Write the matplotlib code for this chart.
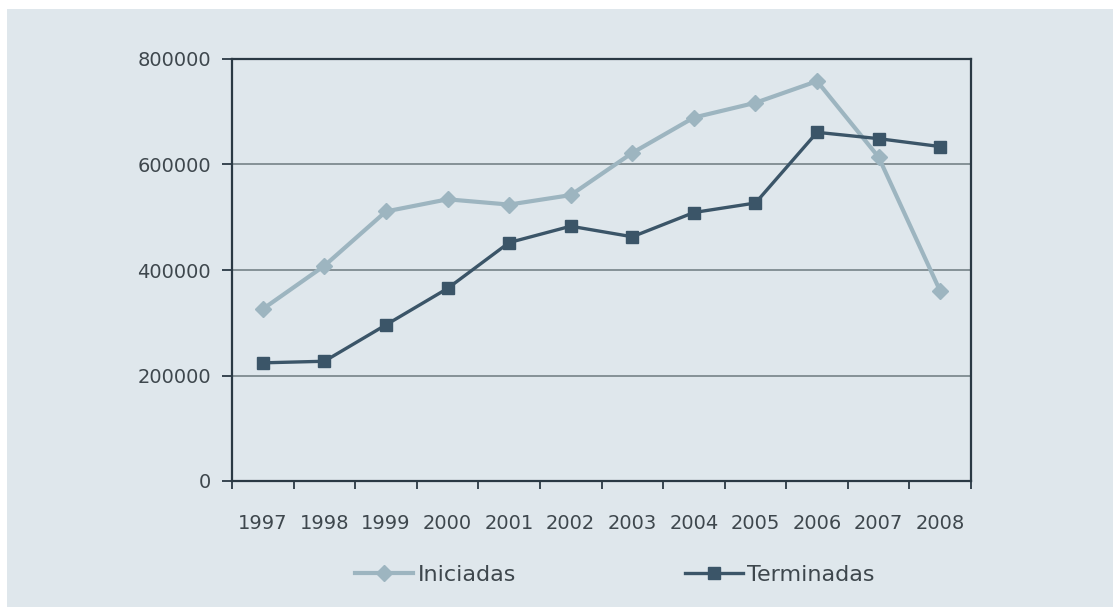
import matplotlib
matplotlib.use("Agg")
import matplotlib.pyplot as plt
from matplotlib.patches import Rectangle

years = ["1997", "1998", "1999", "2000", "2001", "2002", "2003", "2004", "2005", "2006", "2007", "2008"]
iniciadas = [326000, 408000, 511000, 534000, 524000, 542000, 622000, 689000, 717000, 758000, 614000, 360000]
terminadas = [224000, 227000, 296000, 365000, 452000, 483000, 463000, 509000, 527000, 661000, 649000, 634000]
yticks = [0, 200000, 400000, 600000, 800000]

panel_col = "#DFE7EC"
text_col = "#3E474D"
axis_col = "#2A3944"
grid_col = "#7E8A90"
c_ini = "#9DB5C0"
c_ter = "#3B5568"

plt.rcParams["font.family"] = ["DejaVu Sans"]

fig = plt.figure(figsize=(11.13, 6.07), dpi=100, facecolor="white")
fig.patches.append(Rectangle((7 / 1113, 0), 1 - 7 / 1113, 1 - 9 / 607,
                             transform=fig.transFigure, facecolor=panel_col,
                             edgecolor="none", zorder=-10))

ax = fig.add_axes([232 / 1113, 1 - 481 / 607, (971 - 232) / 1113, (481 - 59) / 607])
ax.set_facecolor("none")
ax.set_zorder(2)

x = list(range(len(years)))
ax.plot(x, iniciadas, color=c_ini, lw=3.0, marker="D", ms=8.5, mec=c_ini, mfc=c_ini,
        label="Iniciadas", zorder=3)
ax.plot(x, terminadas, color=c_ter, lw=2.4, marker="s", ms=8.5, mec=c_ter, mfc=c_ter,
        label="Terminadas", zorder=4)

ax.set_xlim(-0.5, len(years) - 0.5)
ax.set_ylim(0, 800000)
ax.set_yticks(yticks)
ax.set_yticklabels([str(v) for v in yticks])
ax.set_xticks(x)
ax.set_xticklabels(years)
ax.set_xticks([i - 0.5 for i in range(len(years) + 1)], minor=True)

for v in yticks[1:-1]:
    ax.axhline(v, color=grid_col, lw=1.3, zorder=1)

for s in ax.spines.values():
    s.set_color(axis_col)
    s.set_linewidth(1.6)

ax.tick_params(axis="y", which="major", direction="out", length=7, width=1.3,
               color=axis_col, labelcolor=text_col, labelsize=14, pad=8)
ax.tick_params(axis="x", which="major", length=0, labelcolor=text_col,
               labelsize=14, pad=24)
ax.tick_params(axis="x", which="minor", direction="out", length=6, width=1.3,
               color=axis_col)

leg = fig.legend(loc="center", bbox_to_anchor=(615 / 1113, 1 - 575 / 607), ncol=2,
                 frameon=False, fontsize=16, handlelength=2.6, handletextpad=0.2,
                 columnspacing=7.6, labelcolor=text_col)

fig.savefig("out.png", dpi=100, facecolor="white")
